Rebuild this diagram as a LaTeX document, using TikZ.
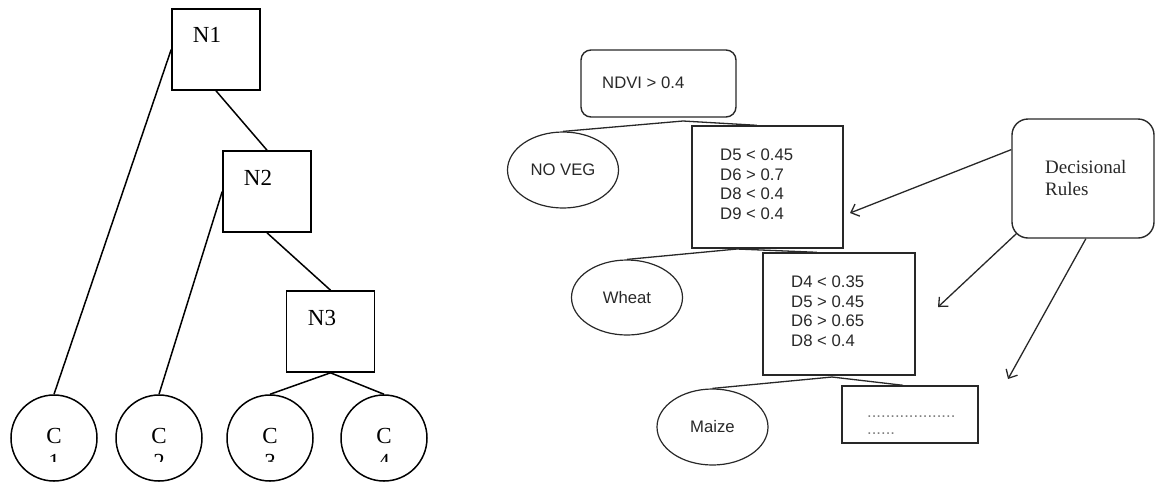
\documentclass[tikz,border=0pt]{standalone}
\usepackage{fontspec}
\setmainfont{Liberation Serif}
\newfontfamily\arialf{Liberation Sans}
\usetikzlibrary{shapes.geometric,arrows.meta,calc}
\definecolor{dg}{RGB}{40,40,40}
\begin{document}
\begin{tikzpicture}[x=1pt,y=-1pt,
  treebox/.style={draw=black,line width=1.6pt,minimum width=88pt,minimum height=81pt,inner sep=0pt},
  leaf/.style={draw=black,circle,line width=1.5pt,minimum size=86pt,inner sep=0pt},
  treelbl/.style={font=\fontsize{23}{26}\selectfont,inner sep=0pt},
  treeline/.style={draw=black,line width=1.5pt},
  rbox/.style={draw=dg,line width=1.4pt,inner sep=0pt},
  ell/.style={draw=dg,ellipse,line width=1.2pt,minimum width=111pt,minimum height=76pt,inner sep=0pt,text=dg,font=\arialf\fontsize{16.7}{19}\selectfont},
  rtext/.style={inner sep=0pt,text=dg,align=left,font=\arialf\fontsize{16.7}{19.5}\selectfont},
  rline/.style={draw=dg,line width=1.3pt},
  arr/.style={draw=dg,line width=1.3pt,-{Straight Barb[length=7pt,width=13pt,line width=1.3pt]}}
]
\useasboundingbox (0,0) rectangle (1155,483);
% ---------- left tree ----------
\node[treebox] (n1) at (216,49.5) {};
\node[treebox] (n2) at (267,191.5) {};
\node[treebox] (n3) at (330.5,331.5) {};
\node[treelbl] (n1t) at (207,35) {N1};
\node[treelbl] (n2t) at (258,178) {N2};
\node[treelbl] (n3t) at (322,318) {N3};
\node[leaf] (c1) at (54,438) {};
\node[leaf] (c2) at (159,438) {};
\node[leaf] (c3) at (270,438) {};
\node[leaf] (c4) at (384,438) {};
\node[treelbl,anchor=base] (c1t) at (54,443) {C};
\node[treelbl,anchor=base] (c2t) at (159,443) {C};
\node[treelbl,anchor=base] (c3t) at (270,443) {C};
\node[treelbl,anchor=base] (c4t) at (384,443) {C};
\begin{scope}
  \clip (0,0) rectangle (1155,461);
  \node[treelbl,anchor=base] (c1d) at (54,469) {1};
  \node[treelbl,anchor=base] (c2d) at (159,469) {2};
  \node[treelbl,anchor=base] (c3d) at (270,469) {3};
  \node[treelbl,anchor=base] (c4d) at (384,469) {4};
\end{scope}
\draw[treeline] (n1.south) -- (n2.north);
\draw[treeline] (n2.south) -- (n3.north);
\draw[treeline] (n1.west) -- (c1.north);
\draw[treeline] (n2.west) -- (c2.north);
\draw[treeline] (n3.south) -- (c3.north);
\draw[treeline] (n3.south) -- (c4.north);
% ---------- right tree ----------
\node[rbox,rounded corners=10pt,minimum width=155pt,minimum height=67pt] (ndvi) at (658.5,83.5) {};
\node[rtext,anchor=west] (ndvit) at (602,83) {NDVI > 0.4};
\node[ell] (noveg) at (563,170) {NO VEG};
\node[rbox,minimum width=151pt,minimum height=122pt] (d5) at (767.5,187) {};
\node[rtext,anchor=north west] (d5t) at (720,149) {D5 < 0.45\\D6 > 0.7\\D8 < 0.4\\D9 < 0.4};
\node[ell,minimum height=75pt] (wheat) at (627,297.5) {Wheat};
\node[rbox,minimum width=152pt,minimum height=122pt] (d4) at (839,314) {};
\node[rtext,anchor=north west] (d4t) at (791,276) {D4 < 0.35\\D5 > 0.45\\D6 > 0.65\\D8 < 0.4};
\node[ell] (maize) at (712.5,427) {Maize};
\node[rbox,minimum width=136pt,minimum height=57pt] (last) at (910,414.5) {};
\node[rtext,anchor=base west,text=gray] (dots1) at (867,417) {...................};
\node[rtext,anchor=base west,text=gray] (dots2) at (867,434) {......};
\node[rbox,rounded corners=16pt,minimum width=142pt,minimum height=119pt] (dr) at (1083,178.5) {};
\node[inner sep=0pt,align=left,anchor=north west,font=\fontsize{19}{22}\selectfont,text=dg] (drt) at (1045,160) {Decisional\\Rules};
\coordinate (a1) at (683,121);
\coordinate (a2) at (737,249);
\coordinate (a3) at (832,377);
\draw[rline] (a1) -- (noveg.north);
\draw[rline] (a1) -- ($(d5.north west)!0.43!(d5.north east)$);
\draw[rline] (a2) -- (wheat.north);
\draw[rline] (a2) -- ($(d4.north west)!0.355!(d4.north east)$);
\draw[rline] (a3) -- (maize.north);
\draw[rline] (a3) -- ($(last.north west)!0.45!(last.north east)$);
\coordinate (t1) at (850,213);
\coordinate (t2) at (938,307);
\coordinate (t3) at (1008,379);
\draw[arr] ($(dr.north west)!0.26!(dr.south west)$) -- (t1);
\draw[arr] ([shift={(5pt,5pt)}]dr.south west) -- (t2);
\draw[arr] ($(dr.south west)!0.52!(dr.south east)$) -- (t3);
\end{tikzpicture}
\end{document}
